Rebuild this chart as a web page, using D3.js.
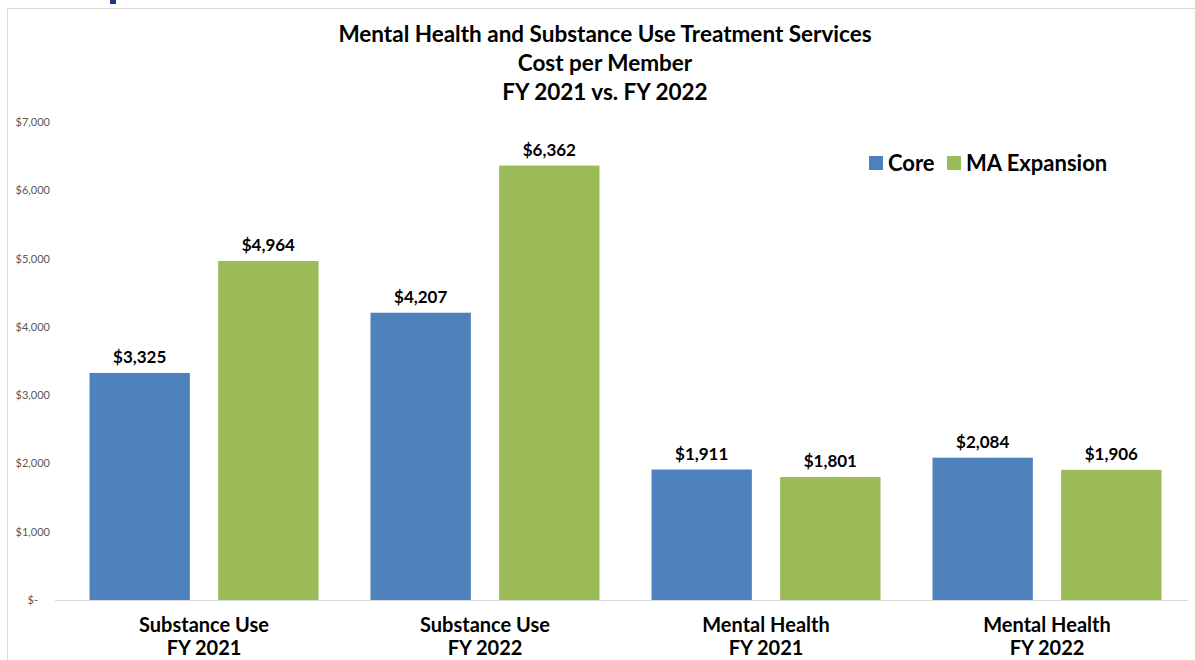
<!DOCTYPE html>
<html><head><meta charset="utf-8">
<script src="https://cdn.jsdelivr.net/npm/d3@7"></script>
<style>
body{margin:0;background:#fff;}
svg{display:block;font-family:Lato,"Open Sans",sans-serif;}
</style></head><body>
<svg id="c" width="1195" height="660"></svg>
<script>
const categories = [["Substance Use","FY 2021"],["Substance Use","FY 2022"],["Mental Health","FY 2021"],["Mental Health","FY 2022"]];
const seriesNames = ["Core","MA Expansion"];
const coreValues = [3325, 4207, 1911, 2084];
const maValues = [4964, 6362, 1801, 1906];
const yTicks = [0,1000,2000,3000,4000,5000,6000,7000];
const titleLines = ["Mental Health and Substance Use Treatment Services","Cost per Member","FY 2021 vs. FY 2022"];
const colors = ["#4F81BD","#9BBB59"];

const svg = d3.select("#c");
// frame
svg.append("path").attr("d","M7.5,660 V8.5 H1195").attr("fill","none").attr("stroke","#d9d9d9");
svg.append("rect").attr("x",110).attr("y",0).attr("width",6).attr("height",4).attr("fill","#1f3a7a");

const x0 = d3.scaleBand().domain(d3.range(categories.length)).range([63.5,1187.5]).paddingInner(0.185).paddingOuter(0.0925);
const x1 = d3.scaleBand().domain(seriesNames).range([0,x0.bandwidth()]).paddingInner(0.22);
const y = d3.scaleLinear().domain([0,7000]).range([600,122]);

// title
svg.append("g").selectAll("text").data(titleLines).join("text")
  .attr("x",605).attr("y",(d,i)=>42+i*29).attr("text-anchor","middle")
  .attr("font-weight","bold").attr("font-size",22.5).attr("fill","#000").text(d=>d);

// y axis
const yAxis = d3.axisLeft(y).tickValues(yTicks).tickSize(0).tickPadding(0)
  .tickFormat(d=> d===0 ? "$-" : d3.format("$,")(d));
const ya = svg.append("g").attr("transform","translate(50,0)").call(yAxis);
ya.select(".domain").remove();
ya.selectAll("text").attr("fill","#595959").attr("font-size",11).attr("font-family","Lato,sans-serif")
  .attr("dy","0.32em").attr("x",d=>d===0?-12:0);

// baseline
svg.append("line").attr("x1",55).attr("x2",1188).attr("y1",600.5).attr("y2",600.5).attr("stroke","#d9d9d9");

const data = categories.map((c,i)=>({i, vals:[coreValues[i], maValues[i]]}));
const g = svg.append("g").selectAll("g").data(data).join("g").attr("transform",d=>`translate(${x0(d.i)},0)`);
g.selectAll("rect").data(d=>d.vals.map((v,k)=>({v,k}))).join("rect")
  .attr("x",d=>x1(seriesNames[d.k])).attr("width",x1.bandwidth())
  .attr("y",d=>y(d.v)).attr("height",d=>600-y(d.v)).attr("fill",d=>colors[d.k]);
g.selectAll("text.v").data(d=>d.vals.map((v,k)=>({v,k}))).join("text").attr("class","v")
  .attr("x",d=>x1(seriesNames[d.k])+x1.bandwidth()/2).attr("y",d=>y(d.v)-10)
  .attr("text-anchor","middle").attr("font-weight","bold").attr("font-size",17).attr("fill","#000")
  .text(d=>d3.format("$,")(d.v));

// category labels
const cl = svg.append("g").selectAll("text").data(data).join("text")
  .attr("text-anchor","middle").attr("font-weight","bold").attr("font-size",20).attr("fill","#000");
cl.selectAll("tspan").data(d=>categories[d.i].map(t=>({t,x:x0(d.i)+x0.bandwidth()/2}))).join("tspan")
  .attr("x",d=>d.x).attr("y",(d,j)=>632+j*23).text(d=>d.t);

// legend
const lg = svg.append("g");
const lx = [869, 947];
seriesNames.forEach((s,k)=>{
  lg.append("rect").attr("x",lx[k]).attr("y",156).attr("width",14).attr("height",14).attr("fill",colors[k]);
  lg.append("text").attr("x",lx[k]+19).attr("y",171).attr("font-weight","bold").attr("font-size",22).attr("fill","#000").text(s);
});
</script>
</body></html>
